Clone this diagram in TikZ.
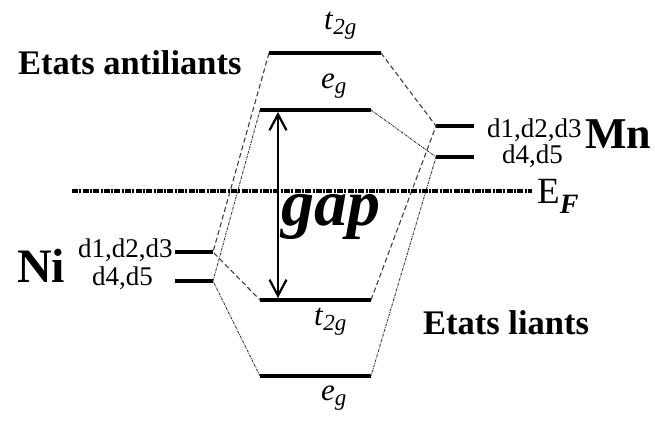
\documentclass[tikz,border=0pt]{standalone}
\usepackage{fontspec}
\setmainfont{Liberation Serif}
\usetikzlibrary{positioning,arrows.meta}
\newcommand{\orb}[2]{\textit{#1}\raisebox{-0.42ex}{\fontsize{23}{25}\selectfont\textit{#2}}}

\begin{document}
\begin{tikzpicture}[x=1pt,y=-1pt,
  lvl/.style={line width=3.2pt},
  dsh/.style={black!75,line width=1.1pt,dash pattern=on 5pt off 3pt},
  dtd/.style={black!80,line width=0.9pt,dash pattern=on 2.5pt off 1pt on 0.8pt off 1pt},
  lb/.style={inner sep=0pt,anchor=base west},
  big/.style={lb,font=\fontsize{34.5}{37}\selectfont\bfseries},
  dl/.style={lb,font=\fontsize{27}{29}\selectfont},
  ol/.style={lb,font=\fontsize{31}{33}\selectfont}]
\useasboundingbox (0,0) rectangle (655,423);
% energy levels
\foreach \n/\xa/\xb/\y in {tA/269/381/53,eA/260/371/110,tB/260/371/300,eB/260/371/376,
    m1/436/474/126,m2/436/474/157,n1/175/213/252,n2/175/213/281}{
  \coordinate (\n l) at (\xa,\y);
  \coordinate (\n r) at (\xb,\y);
  \draw[lvl] (\n l) -- (\n r);
}
% correlation lines
\draw[dsh] (tAl) -- (n1r) -- (tBl);
\draw[dtd] (eAl) -- (n2r) -- (eBl);
\draw[dsh] (tAr) -- (m1l) -- (tBr);
\draw[dtd] (eAr) -- (m2l) -- (eBr);
% Fermi level
\coordinate (efa) at (72,191);
\coordinate (efb) at (532,191);
\draw[line width=3.6pt,dash pattern=on 6pt off 1.3pt on 2pt off 1.3pt] (efa) -- (efb);
\node[lb,font=\fontsize{37}{39}\selectfont] (ef) at (537,203) {E\raisebox{-0.6ex}{\fontsize{28}{30}\selectfont\bfseries\textit{F}}};
% gap
\coordinate (ga) at (278,112);
\coordinate (gb) at (278,298);
\draw[line width=2.2pt,{Straight Barb[length=16pt,width=17pt]}-{Straight Barb[length=16pt,width=17pt]}] (ga) -- (gb);
\node[lb,font=\fontsize{66}{68}\selectfont\bfseries\itshape] (gap) at (281,225) {gap};
% labels
\node[ol] (ltA) at (324,29) {\orb{t}{2g}};
\node[ol] (leA) at (321,88) {\orb{e}{g}};
\node[ol] (ltB) at (314,325) {\orb{t}{2g}};
\node[ol] (leB) at (321,400) {\orb{e}{g}};
\node[big] (anti) at (18,74) {Etats antiliants};
\node[big] (liant) at (423,334) {Etats liants};
\node[dl] (mn1) at (487,137) {d1,d2,d3};
\node[dl] (mn2) at (502,163) {d4,d5};
\node[lb,font=\fontsize{44}{46}\selectfont\bfseries] (mn) at (585,148) {Mn};
\node[dl] (ni1) at (78,257) {d1,d2,d3};
\node[dl] (ni2) at (92,285) {d4,d5};
\node[lb,font=\fontsize{48}{50}\selectfont\bfseries] (ni) at (17,282) {Ni};
\end{tikzpicture}
\end{document}
